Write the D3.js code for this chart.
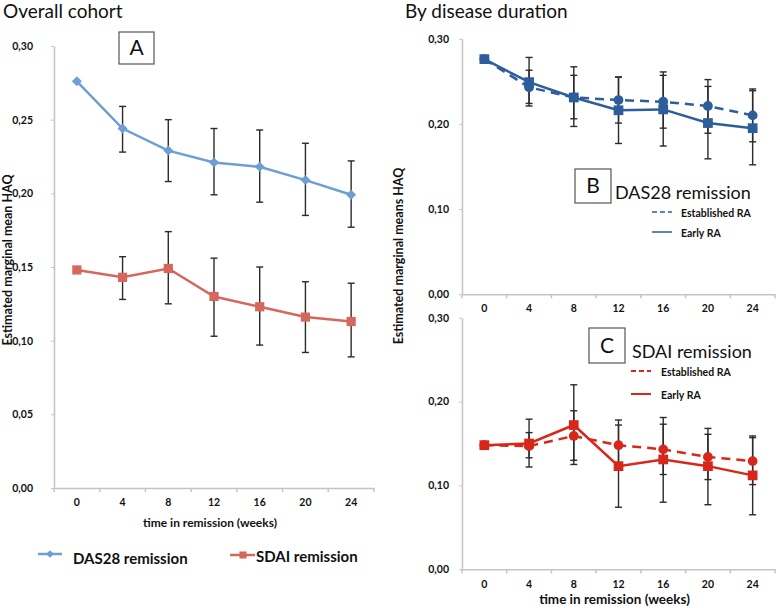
<!DOCTYPE html>
<meta charset="utf-8">
<style>
  body { margin: 0; background: #fff; }
  svg text { font-family: Lato, "Open Sans", sans-serif; fill: #111; }
  .tick text { font-weight: bold; }
</style>
<body>
<script src="https://cdn.jsdelivr.net/npm/d3@7"></script>
<script>

  var weeks = [0, 4, 8, 12, 16, 20, 24];
  var yTicksLeft = [0, 0.05, 0.10, 0.15, 0.20, 0.25, 0.30];
  var yTicksRight = [0, 0.10, 0.20, 0.30];

  // panel A: overall cohort
  var das28Overall   = [0.276, 0.244, 0.229, 0.221, 0.218, 0.209, 0.199];
  var das28OverallLo = [null, 0.228, 0.208, 0.199, 0.194, 0.185, 0.177];
  var das28OverallHi = [null, 0.259, 0.250, 0.244, 0.243, 0.234, 0.222];
  var sdaiOverall    = [0.148, 0.143, 0.149, 0.130, 0.123, 0.116, 0.113];
  var sdaiOverallLo  = [null, 0.128, 0.125, 0.103, 0.097, 0.092, 0.089];
  var sdaiOverallHi  = [null, 0.157, 0.174, 0.156, 0.150, 0.140, 0.139];

  // panel B: DAS28 remission by disease duration
  var das28Early     = [0.276, 0.249, 0.231, 0.216, 0.217, 0.201, 0.195];
  var das28EarlyLo   = [null, 0.221, 0.197, 0.177, 0.174, 0.159, 0.152];
  var das28EarlyHi   = [null, 0.278, 0.267, 0.255, 0.261, 0.244, 0.239];
  var das28Estab     = [0.276, 0.243, 0.231, 0.228, 0.226, 0.221, 0.210];
  var das28EstabLo   = [null, 0.224, 0.206, 0.201, 0.195, 0.189, 0.179];
  var das28EstabHi   = [null, 0.263, 0.257, 0.255, 0.257, 0.252, 0.241];

  // panel C: SDAI remission by disease duration
  var sdaiEarly      = [0.148, 0.150, 0.172, 0.123, 0.131, 0.123, 0.112];
  var sdaiEarlyLo    = [null, 0.122, 0.125, 0.074, 0.080, 0.077, 0.065];
  var sdaiEarlyHi    = [null, 0.179, 0.220, 0.172, 0.181, 0.168, 0.159];
  var sdaiEstab      = [0.148, 0.147, 0.159, 0.148, 0.143, 0.134, 0.129];
  var sdaiEstabLo    = [null, 0.133, 0.130, 0.118, 0.113, 0.107, 0.101];
  var sdaiEstabHi    = [null, 0.163, 0.189, 0.178, 0.173, 0.161, 0.157];

  var svg = d3.select("body").append("svg")
    .attr("width", 778)
    .attr("height", 608);

  var comma = d => d3.format(".2f")(d).replace(".", ",");

  function series(values, lo, hi, color, marker, dashed, size) {
    return {
      points: weeks.map((w, i) => ({ w: w, v: values[i], lo: lo[i], hi: hi[i] })),
      color: color, marker: marker, dashed: dashed, size: size
    };
  }

  function drawPanel(p) {
    var x = d3.scaleBand().domain(weeks).range([p.x0, p.x1]);
    var y = d3.scaleLinear().domain([0, 0.30]).range([p.y0, p.y1]);
    var g = svg.append("g");

    // y axis
    var ya = g.append("g")
      .attr("transform", "translate(" + p.x0 + ",0)")
      .call(d3.axisLeft(y).tickValues(p.yTicks).tickFormat(comma).tickSize(3).tickSizeOuter(0).tickPadding(p.yPad));
    ya.select(".domain").attr("stroke", "#c4c4c4").attr("stroke-width", 1.5);
    ya.selectAll(".tick line").attr("stroke", "#c4c4c4");
    ya.selectAll(".tick text").style("font-size", p.tickFont + "px");

    // x axis, labels in band centres, tick marks on band edges
    var xa = g.append("g")
      .attr("transform", "translate(0," + p.y0 + ")")
      .call(d3.axisBottom(x).tickSize(0).tickPadding(p.xPad));
    xa.select(".domain").attr("stroke", "#c4c4c4").attr("stroke-width", 1.5);
    xa.selectAll(".tick text").style("font-size", p.tickFont + "px");
    xa.selectAll(".edge")
      .data(weeks.concat(["end"]))
      .enter().append("line")
      .attr("class", "edge")
      .attr("x1", d => d === "end" ? p.x1 : x(d))
      .attr("x2", d => d === "end" ? p.x1 : x(d))
      .attr("y1", 0).attr("y2", 4)
      .attr("stroke", "#c4c4c4").attr("stroke-width", 1.5);

    var cx = d => x(d.w) + x.bandwidth() / 2;

    p.series.forEach(s => {
      // error bars
      var bars = g.append("g").selectAll("g")
        .data(s.points.filter(d => d.lo != null))
        .enter().append("g")
        .attr("stroke", "#2b2b2b").attr("stroke-width", 1.4);
      bars.append("line").attr("x1", cx).attr("x2", cx).attr("y1", d => y(d.lo)).attr("y2", d => y(d.hi));
      bars.append("line").attr("x1", d => cx(d) - 3.5).attr("x2", d => cx(d) + 3.5).attr("y1", d => y(d.lo)).attr("y2", d => y(d.lo));
      bars.append("line").attr("x1", d => cx(d) - 3.5).attr("x2", d => cx(d) + 3.5).attr("y1", d => y(d.hi)).attr("y2", d => y(d.hi));
    });

    p.series.forEach(s => {
      g.append("path")
        .datum(s.points)
        .attr("fill", "none")
        .attr("stroke", s.color)
        .attr("stroke-width", p.lineWidth)
        .attr("stroke-dasharray", s.dashed ? "9,6" : null)
        .attr("d", d3.line().x(cx).y(d => y(d.v)));
      g.append("g").selectAll("path")
        .data(s.points)
        .enter().append("path")
        .attr("transform", d => "translate(" + cx(d) + "," + y(d.v) + ")" + (s.marker === "diamond" ? " rotate(45)" : ""))
        .attr("d", d3.symbol().type(s.marker === "circle" ? d3.symbolCircle : d3.symbolSquare).size(s.size))
        .attr("fill", s.color);
    });

    if (p.xTitle) {
      g.append("text")
        .attr("x", (p.x0 + p.x1) / 2 - 4).attr("y", p.xTitleY)
        .attr("text-anchor", "middle")
        .style("font-weight", "bold").style("font-size", p.xTitleFont + "px")
        .text(p.xTitle);
    }
  }

  var blueA = "#6d9fd3", redA = "#d5675d", blueB = "#2d5d9b", redC = "#d9261b";

  drawPanel({ x0: 54, x1: 374, y0: 488, y1: 46, yTicks: yTicksLeft, yPad: 18, xPad: 11, tickFont: 10.5,
    lineWidth: 2.5,
    series: [series(das28Overall, das28OverallLo, das28OverallHi, blueA, "diamond", false, 50),
             series(sdaiOverall, sdaiOverallLo, sdaiOverallHi, redA, "square", false, 85)],
    xTitle: "time in remission (weeks)", xTitleY: 527, xTitleFont: 12 });

  drawPanel({ x0: 462, x1: 775, y0: 294.3, y1: 38.7, yTicks: yTicksRight, yPad: 10, xPad: 10, tickFont: 10.5,
    lineWidth: 2.5,
    series: [series(das28Estab, das28EstabLo, das28EstabHi, blueB, "circle", true, 75),
             series(das28Early, das28EarlyLo, das28EarlyHi, blueB, "square", false, 95)] });

  drawPanel({ x0: 462, x1: 775, y0: 569.3, y1: 317.7, yTicks: yTicksRight, yPad: 10, xPad: 11, tickFont: 10.5,
    lineWidth: 2.5,
    series: [series(sdaiEstab, sdaiEstabLo, sdaiEstabHi, redC, "circle", true, 75),
             series(sdaiEarly, sdaiEarlyLo, sdaiEarlyHi, redC, "square", false, 95)],
    xTitle: "time in remission (weeks)", xTitleY: 604, xTitleFont: 13.5 });

  // titles
  svg.append("text").attr("x", 3).attr("y", 18).style("font-size", "19px").text("Overall cohort");
  svg.append("text").attr("x", 405).attr("y", 18).style("font-size", "19px").text("By disease duration");

  // y axis titles
  svg.append("text").attr("transform", "translate(12,260) rotate(-90)").attr("text-anchor", "middle")
    .style("font-weight", "bold").style("font-size", "12.5px").text("Estimated marginal mean HAQ");
  svg.append("text").attr("transform", "translate(403,256) rotate(-90)").attr("text-anchor", "middle")
    .style("font-weight", "bold").style("font-size", "12.5px").text("Estimated marginal means HAQ");

  // panel letters
  function letterBox(x, y, w, h, letter) {
    svg.append("rect").attr("x", x).attr("y", y).attr("width", w).attr("height", h)
      .attr("fill", "#fff").attr("stroke", "#555").attr("stroke-width", 1.2);
    svg.append("text").attr("x", x + w / 2).attr("y", y + h / 2 + 7).attr("text-anchor", "middle")
      .style("font-size", "21px").text(letter);
  }
  letterBox(119, 32, 35, 32, "A");
  letterBox(575, 169, 36, 34, "B");
  letterBox(589, 328, 36, 35, "C");

  // panel A legend
  var legA = svg.append("g");
  legA.append("line").attr("x1", 38).attr("x2", 62).attr("y1", 554).attr("y2", 554).attr("stroke", blueA).attr("stroke-width", 2.5);
  legA.append("path").attr("transform", "translate(50,554) rotate(45)").attr("d", d3.symbol().type(d3.symbolSquare).size(30)).attr("fill", blueA);
  legA.append("text").attr("x", 73).attr("y", 564).style("font-weight", "bold").style("font-size", "15px").text("DAS28 remission");
  legA.append("line").attr("x1", 230).attr("x2", 255).attr("y1", 555).attr("y2", 555).attr("stroke", redA).attr("stroke-width", 2.5);
  legA.append("path").attr("transform", "translate(243,555)").attr("d", d3.symbol().type(d3.symbolSquare).size(50)).attr("fill", redA);
  legA.append("text").attr("x", 256).attr("y", 562).style("font-weight", "bold").style("font-size", "15px").text("SDAI remission");

  // panel B/C legends
  function subLegend(title, tx, ty, lx, tlx, y1, y2, color, lw, font) {
    var g = svg.append("g");
    g.append("text").attr("x", tx).attr("y", ty).style("font-size", "18px").text(title);
    g.append("line").attr("x1", lx).attr("x2", lx + 20).attr("y1", y1).attr("y2", y1)
      .attr("stroke", color).attr("stroke-width", lw).attr("stroke-dasharray", "5,3");
    g.append("line").attr("x1", lx).attr("x2", lx + 20).attr("y1", y2).attr("y2", y2)
      .attr("stroke", color).attr("stroke-width", lw);
    g.append("text").attr("x", tlx).attr("y", y1 + 5).style("font-weight", "bold").style("font-size", font + "px").text("Established RA");
    g.append("text").attr("x", tlx).attr("y", y2 + 5).style("font-weight", "bold").style("font-size", font + "px").text("Early RA");
  }
  subLegend("DAS28 remission", 615, 199, 652, 681, 212, 232, blueB, 1.5, 10.5);
  subLegend("SDAI remission", 632, 358, 631, 661, 371, 394, redC, 2, 10.5);

</script>
</body>
